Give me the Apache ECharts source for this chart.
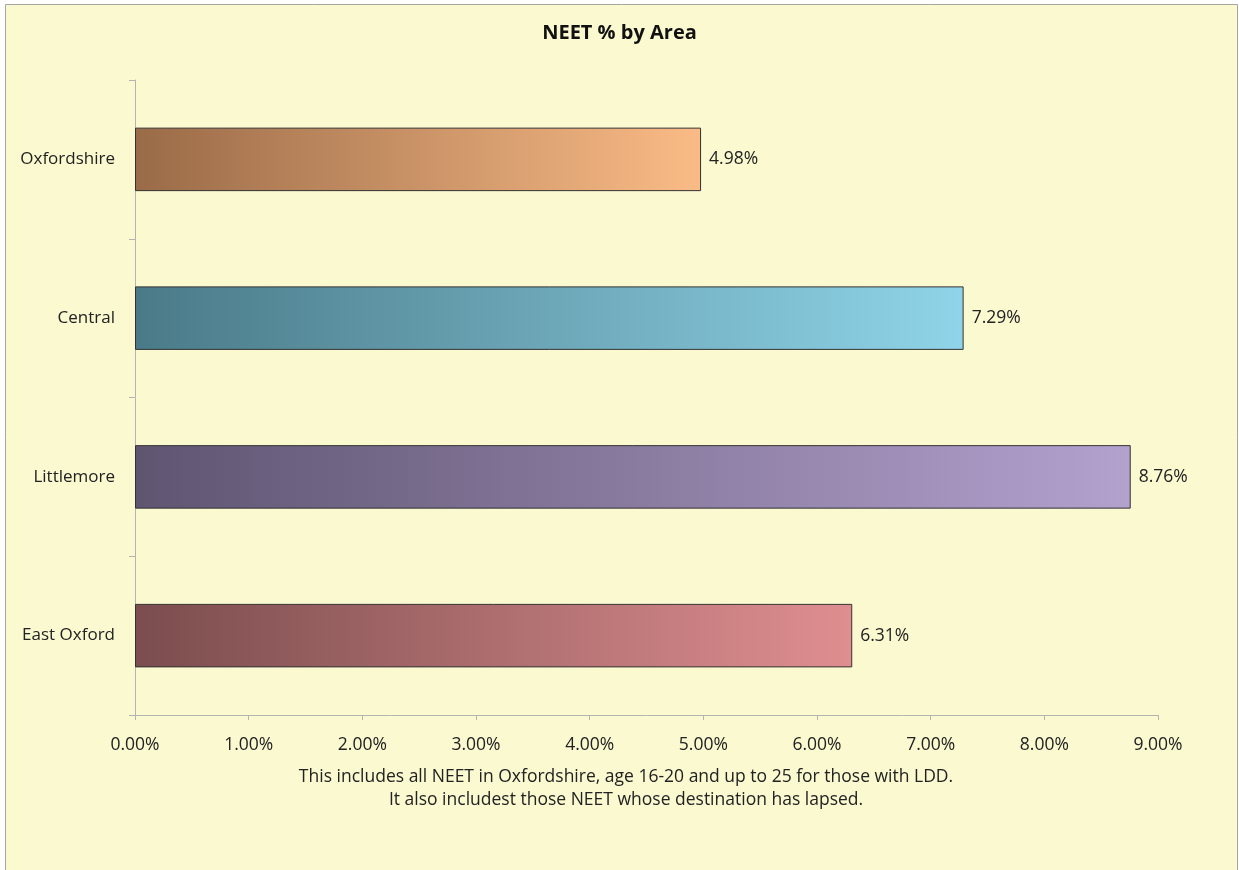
<!DOCTYPE html>
<html>
<head>
<meta charset="utf-8">
<script src="https://cdn.jsdelivr.net/npm/echarts@6/dist/echarts.min.js"></script>
<style>
html,body{margin:0;padding:0;background:#fff;}
#c{width:1239px;height:870px;}
</style>
</head>
<body>
<div id="c"></div>
<script>
const categories = ["Oxfordshire", "Central", "Littlemore", "East Oxford"];
const neetPct = [4.98, 7.29, 8.76, 6.31];
const xTicks = [0, 1, 2, 3, 4, 5, 6, 7, 8, 9];
const titleText = "NEET % by Area";
const noteLines = [
  "This includes all NEET in Oxfordshire, age 16-20 and up to 25 for those with LDD.",
  "It also includest those NEET whose destination has lapsed."
];

const gradStops = [
  ["#9a6b48", "#fabb86"],
  ["#4a7a88", "#8fd4e8"],
  ["#5f5571", "#b3a1ce"],
  ["#7b4d4e", "#df8e90"]
];
const FONT = "'Open Sans', 'Noto Sans', sans-serif";

const chart = echarts.init(document.getElementById('c'));
chart.setOption({
  backgroundColor: "#ffffff",
  animation: false,
  graphic: [
    { type: "rect", z: -10, shape: { x: 5.5, y: 4.5, width: 1232, height: 870 },
      style: { fill: "#fbf9d0", stroke: "#a6a6a6", lineWidth: 1 } }
  ],
  title: [
    { text: titleText, left: "center", top: 18,
      textStyle: { fontFamily: FONT, fontSize: 20, fontWeight: "bold", color: "#111" } },
    { text: noteLines.join("\n"), left: 621, textAlign: "center", top: 761,
      textStyle: { fontFamily: FONT, fontSize: 17.5, fontWeight: "normal", color: "#222", lineHeight: 23 } }
  ],
  grid: { left: 135, right: 81, top: 80, bottom: 155, containLabel: false },
  xAxis: {
    type: "value", min: 0, max: 9, interval: 1,
    axisLine: { show: true, lineStyle: { color: "#b4b4b4", width: 1 } },
    axisTick: { show: true, length: 5, lineStyle: { color: "#b4b4b4" } },
    splitLine: { show: false },
    axisLabel: { fontFamily: FONT, fontSize: 17.5, color: "#222", margin: 21,
      formatter: v => xTicks.includes(v) ? v.toFixed(2) + "%" : "" }
  },
  yAxis: {
    type: "category", data: categories, inverse: true,
    axisLine: { show: true, lineStyle: { color: "#b4b4b4", width: 1 } },
    axisTick: { show: true, length: 6, lineStyle: { color: "#b4b4b4" } },
    axisLabel: { fontFamily: FONT, fontSize: 17, color: "#222", margin: 20 }
  },
  series: [{
    type: "bar",
    data: neetPct.map((v, i) => ({
      value: v,
      itemStyle: {
        color: new echarts.graphic.LinearGradient(0, 0, 1, 0, [
          { offset: 0, color: gradStops[i][0] },
          { offset: 1, color: gradStops[i][1] }
        ])
      }
    })),
    barWidth: "40%",
    itemStyle: { borderColor: "#333", borderWidth: 1 },
    label: { show: true, position: "right", distance: 8, fontFamily: FONT, fontSize: 17.5, color: "#222",
      formatter: p => p.value.toFixed(2) + "%" }
  }]
});
</script>
</body>
</html>
